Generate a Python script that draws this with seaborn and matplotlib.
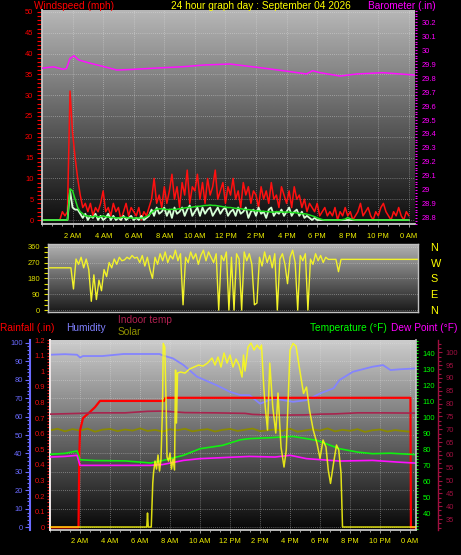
import numpy as np
import seaborn as sns
import matplotlib.pyplot as plt
from matplotlib.ticker import MultipleLocator, FixedLocator, FuncFormatter

# wind readings, one every 10 minutes from midnight
gust_mph = [0, 0, 0, 0, 0, 0, 0, 0, 2, 1, 2, 31,
            21, 15, 10, 6, 3, 4, 2, 4, 1, 3, 2, 4, 7,
            2, 3, 1, 4, 2, 3, 0, 2, 4, 1, 3, 2, 1, 3, 0, 2, 1,
            3, 5, 10, 4, 6, 3,
            8, 4, 7, 11, 5, 8, 3, 9, 6, 12, 4, 8,
            7, 11, 5, 9, 4, 10, 6, 8, 12, 5, 7, 9,
            4, 8, 6, 10, 5, 7, 3, 9, 6, 8, 4, 7,
            6, 3, 8, 5, 7, 4, 9, 5, 6, 3, 8, 6,
            4, 7, 3, 8, 5, 6, 3, 5, 2, 4,
            3, 2, 4, 1, 2, 3, 1, 2,
            1, 3, 0, 2, 1, 3, 1, 2, 0, 1, 2, 4, 1, 2, 3, 1, 0, 2, 1, 3,
            4, 2, 1, 0, 2, 1, 3, 1, 0, 2, 1]
avg_mph = [0, 0, 0, 0, 0, 0, 0, 0, 0, 0, 0,
           7.5, 7, 5, 3, 2, 1.5, 1,
           1, 0.8, 0.8, 1, 0.7, 0.8,
           1, 0.8, 0.7, 0.6, 0.6, 0.5, 0.5, 0.6, 0.7, 0.6, 0.5, 0.5, 0.4, 0.5, 0.5, 0.4, 0.6, 0.8,
           1.2, 1.8, 2.3, 2.6, 2.7, 2.7,
           2.6, 2.5, 2.5, 2.6, 2.5, 2.6, 2.7, 2.8, 2.9, 3.0, 3.0, 3.1,
           3.2, 3.3, 3.3, 3.4, 3.5, 3.5, 3.6, 3.5, 3.5, 3.4, 3.3, 3.2,
           3.1, 3.0, 3.0, 2.9, 2.8, 2.8, 2.7, 2.6, 2.5, 2.5, 2.4, 2.3,
           2.2, 2.2, 2.1, 2.1, 2.0, 2.0, 1.9, 1.9, 2.0, 2.0, 1.9, 1.9,
           1.9, 1.9, 1.8, 1.8, 1.7, 1.6, 1.5, 1.5, 1.4, 1.2,
           1.0, 0.8, 0.5, 0.3, 0.1, 0, 0, 0,
           0, 0, 0, 0, 0.1, 0.2, 0.6, 0.3, 0.1, 0,
           0, 0, 0, 0, 0, 0, 0, 0, 0, 0, 0, 0, 0, 0, 0, 0, 0, 0, 0, 0, 0]
speed_mph = [0, 0, 0, 0, 0, 0, 0, 0, 0, 0, 0,
             7, 3, 2.5, 2.5, 1.5, 0.5, 1.5,
             0, 1, 0.5, 1.5, 0, 1, 0, 0.5, 1.5, 0, 1, 0,
             0.5, 0, 1, 0, 0.5, 1, 0, 0.5, 0, 1, 0, 0.5,
             1, 2.5, 1, 3, 1.5, 2,
             3, 1, 2.5, 0.5, 3, 1.5, 2, 3, 1, 2.5, 3.5, 1,
             2, 3, 1, 3, 1.5, 2.5, 3, 1, 2, 3, 1.5, 2.5,
             3, 1, 2, 2.5, 1, 3, 1.5, 2, 3, 0.5, 2, 2.5,
             1, 3, 1.5, 2, 0.5, 2.5, 3, 1, 2, 1.5, 2.5, 1,
             2, 3, 1, 2, 2.5, 1, 2, 0.5, 1, 0.5,
             0, 0.5, 0, 0, 0, 0, 0, 0,
             0, 0, 0, 0, 0, 0, 0, 0, 0, 0, 0, 0, 0, 0, 0, 0,
             0, 0, 0, 0, 0, 0, 0, 0, 0, 0, 0, 0, 0, 0, 0]
wind_dir = [240, 240, 240, 240, 240, 240, 240, 240, 240, 240, 120,
            290, 260, 300, 240, 290, 230,
            50, 200, 60, 170, 110, 230, 190,
            270, 240, 290, 260, 300, 280, 285, 300, 290, 310, 295, 300, 270, 310, 250, 300, 230, 180,
            300, 260, 320, 280, 330, 270, 310, 290, 340, 280, 320, 30,
            300, 270, 330, 290, 320, 260, 310, 340, 280, 330, 300, 270, 320,
            0, 310, 280, 330, 0, 300, 0, 320, 290, 0,
            330, 280, 320, 260, 30, 40,
            300, 250, 330, 270, 310, 240, 320, 0,
            290, 320, 260, 150, 300, 340, 270, 0,
            310, 280, 320, 0,
            290, 260, 320, 280, 310, 270, 300,
            288, 288, 288, 288, 218,
            288, 288, 288, 288, 288, 288, 288, 288, 288, 288, 288, 288, 288, 288, 288, 288,
            288, 288, 288, 288, 288, 288, 288, 288, 288, 288, 288, 288, 288, 288, 288, 288]

baro_hours = [0, 0.75, 1.4, 1.6, 1.83, 2.1, 2.4, 3.0, 3.8, 4.9, 6.0, 7.1, 8.2, 9.25,
              10.6, 12.3, 14.1, 15.8, 17.3, 17.7, 18.2, 19.5, 20.6, 22.3, 24.4]
baro_in = [29.87, 29.88, 29.862, 29.868, 29.94, 29.959, 29.929, 29.91, 29.888, 29.857,
           29.862, 29.869, 29.875, 29.881, 29.893, 29.9, 29.876, 29.852, 29.829, 29.852,
           29.838, 29.814, 29.829, 29.838, 29.821]

rain_hours = [0, 1.9, 1.95, 2.0, 2.2, 2.67, 3.0, 3.33, 7.6, 7.7, 24.03, 24.06, 24.4]
rain_in = [0, 0, 0.45, 0.62, 0.70, 0.74, 0.77, 0.81, 0.81, 0.83, 0.83, 0, 0]

hum_hours = [0, 1.0, 1.8, 2.0, 2.2, 3.5, 4.9, 6.0, 7.3, 7.5, 8.2, 8.9, 9.8, 11.1, 12.0,
             12.7, 13.3, 14.0, 14.9, 16.2, 17.1, 18.0, 18.9, 19.3, 20.2, 21.5, 22.2, 22.7,
             23.3, 24.4]
humidity = [93.5, 93.8, 93.5, 92.0, 92.8, 92.8, 93.9, 93.9, 93.9, 93.2, 91.5, 87.9, 81.6,
            77.0, 73.4, 71.6, 71.6, 67.0, 69.8, 68.0, 68.9, 72.5, 75.3, 79.8, 84.3, 87.0,
            87.9, 85.2, 85.6, 86.1]

temp_hours = [0, 1.0, 1.8, 2.0, 3.0, 5.0, 6.7, 7.5, 8.9, 10.0, 11.5, 12.7, 13.3, 14.7,
              16.2, 17.8, 19.3, 20.5, 21.5, 22.7, 24.4]
temp_f = [76.9, 77.5, 79.0, 73.5, 73.0, 72.8, 71.5, 73.0, 76.3, 80.4, 82.5, 86.0, 86.7,
          87.3, 88.1, 85.6, 80.4, 78.3, 77.3, 77.6, 76.7]

dew_hours = [0, 1.0, 1.8, 2.0, 4.0, 6.7, 7.5, 8.9, 10.0, 13.3, 15.0, 16.0, 17.1, 19.3,
             21.5, 23.1, 24.4]
dew_f = [75.2, 75.6, 76.3, 70.0, 70.0, 70.0, 70.5, 73.1, 74.2, 75.6, 75.2, 76.3, 74.2,
         72.7, 73.1, 72.1, 71.4]

indoor_hours = [0, 2, 3, 5, 6.5, 7.5, 9, 11, 13, 13.5, 15, 17, 18, 19, 20.5, 22, 24.4]
indoor_f = [75.9, 76.2, 76.4, 76.4, 77.0, 77.1, 76.5, 76.4, 76.2, 75.8, 75.5, 75.6, 75.9,
            76.0, 76.4, 76.4, 76.3]

# olive trace, every 30 minutes (humidity scale)
olive_vals = [52.5, 53.4, 52.0, 53.2, 52.4, 53.5, 51.8, 52.9, 53.3, 52.1,
              53.0, 52.4, 53.6, 52.2, 52.8, 51.9, 53.1, 52.6, 53.4, 52.0,
              52.7, 53.2, 51.9, 52.8, 53.3, 52.2, 52.9, 53.5, 52.1, 52.6,
              53.0, 52.3, 53.4, 51.8, 52.5, 53.1, 52.4, 53.6, 52.0, 52.8,
              52.3, 53.2, 51.7, 52.6, 53.0, 51.9, 52.7, 52.2, 51.8]

solar_hours = [0, 6.45, 6.5, 6.55, 6.75, 6.85, 6.9, 7.0, 7.1, 7.2, 7.3, 7.4, 7.5, 7.55,
               7.65, 7.75, 7.8, 7.9, 8.0, 8.1, 8.2, 8.3, 8.37, 8.43, 8.5, 8.7, 9.0, 9.3,
               9.6, 9.9, 10.2, 10.5, 10.8, 11.0, 11.2, 11.4, 11.6, 11.8, 12.0, 12.2, 12.4,
               12.6, 12.8, 12.9, 13.0, 13.2, 13.4, 13.6, 13.8, 14.0, 14.1, 14.25, 14.35,
               14.5, 14.65, 14.85, 15.05, 15.2, 15.4, 15.6, 15.75, 16.0, 16.2, 16.4, 16.65,
               16.9, 17.1, 17.3, 17.55, 17.8, 18.0, 18.2, 18.4, 18.55, 18.7, 18.9, 19.1,
               19.25, 19.4, 19.5, 24.4]
solar_wm2 = [0, 0, 70, 0, 0, 220, 270, 330, 290, 360, 280, 340, 600, 918, 900, 585, 350,
             330, 370, 290, 340, 285, 785, 520, 770, 775, 770, 790, 800, 810, 805, 820, 845,
             810, 850, 800, 870, 820, 860, 800, 840, 810, 750, 860, 780, 900, 920, 885, 910,
             890, 910, 700, 600, 485, 820, 600, 470, 670, 400, 300, 385, 885, 918, 905, 785,
             668, 700, 585, 485, 418, 343, 435, 400, 285, 218, 318, 410, 385, 270, 0, 0]

hour_ticks = [2, 4, 6, 8, 10, 12, 14, 16, 18, 20, 22, 24]
hour_labels = ['2 AM', '4 AM', '6 AM', '8 AM', '10 AM', '12 PM', '2 PM', '4 PM',
               '6 PM', '8 PM', '10 PM', '0 AM']
compass = ['N', 'E', 'S', 'W', 'N']

wind_hours = np.arange(len(gust_mph)) / 6
dir_hours = np.arange(len(wind_dir)) / 6
olive_hours = np.arange(len(olive_vals)) / 2

sns.set_theme(style='ticks')
plt.rcParams['font.family'] = ['Liberation Sans', 'DejaVu Sans']

YEL = '#f0f000'
TXT = 7.3
TICK = 5.4


def shade(ax, top, bottom):
    grad = np.linspace(top, bottom, 256).reshape(-1, 1)
    ax.imshow(grad, extent=[0, 1, 0, 1], transform=ax.transAxes, aspect='auto',
              cmap='gray', vmin=0, vmax=1, zorder=0)
    ax.set_facecolor('black')


def grid(ax, axis='both'):
    ax.grid(True, axis=axis, color='#e6e6e6', lw=0.6, ls=(0, (1, 1.5)), alpha=0.5)


def line(ax, x, y, color, lw, alpha=1.0):
    sns.lineplot(x=x, y=y, ax=ax, color=color, lw=lw, alpha=alpha,
                 estimator=None, sort=False, legend=False)
    ax.set_xlabel('')
    ax.set_ylabel('')


def trim(v, pos):
    s = f'{v:.1f}'
    return s[:-2] if s.endswith('.0') else s


def hide_spines(ax, keep=()):
    for name, sp in ax.spines.items():
        sp.set_visible(name in keep)


def hour_axis(ax, pad):
    ax.set_xlim(0, 24.4)
    ax.xaxis.set_major_locator(FixedLocator(hour_ticks))
    ax.xaxis.set_minor_locator(MultipleLocator(2 / 3))
    ax.set_xticklabels(hour_labels)
    ax.tick_params(axis='x', which='both', colors='#9a9a9a', labelcolor=YEL,
                   labelsize=TICK, length=2, width=0.7, pad=pad)
    ax.tick_params(axis='x', which='minor', length=1.5)


fig = plt.figure(figsize=(4.61, 5.55), dpi=100, facecolor='black')

# wind speed and barometer
ax_w = fig.add_axes([0.0911, 0.5964, 0.8091, 0.3856])
shade(ax_w, 0.72, 0.05)
grid(ax_w)
line(ax_w, wind_hours, gust_mph, '#ff1010', 1.1)
line(ax_w, wind_hours, speed_mph, '#d6ffd6', 1.3)
line(ax_w, wind_hours, avg_mph, '#20e020', 1.1)
ax_w.set_ylim(-0.96, 50.48)
ax_w.yaxis.set_major_locator(MultipleLocator(5))
ax_w.yaxis.set_minor_locator(MultipleLocator(1))
ax_w.tick_params(axis='y', which='both', colors='#ff0000', labelsize=TICK,
                 length=3.6, width=0.8, pad=2.6)
hour_axis(ax_w, 4.6)
hide_spines(ax_w, ('left', 'bottom'))
for side in ('left', 'bottom'):
    ax_w.spines[side].set_color('#c8c8c8')
    ax_w.spines[side].set_linewidth(1.3)

ax_b = ax_w.twinx()
line(ax_b, baro_hours, baro_in, '#ff10ff', 1.1)
ax_b.set_xlim(0, 24.4)
ax_b.set_ylim(28.757, 30.286)
ax_b.yaxis.set_major_locator(MultipleLocator(0.1))
ax_b.yaxis.set_minor_locator(MultipleLocator(0.02))
ax_b.yaxis.set_major_formatter(FuncFormatter(trim))
ax_b.tick_params(axis='y', which='both', colors='#ff00ff', labelsize=TICK,
                 length=1.5, width=0.8, pad=3.4)
hide_spines(ax_b)

# wind direction
ax_d = fig.add_axes([0.1041, 0.4378, 0.8026, 0.1225])
shade(ax_d, 0.70, 0.10)
grid(ax_d, 'y')
line(ax_d, dir_hours, wind_dir, '#f2f22a', 1.0)
ax_d.set_xlim(0, 24.2)
ax_d.set_ylim(-11, 375)
ax_d.yaxis.set_major_locator(FixedLocator([0, 90, 180, 270, 360]))
ax_d.yaxis.set_minor_locator(MultipleLocator(30))
ax_d.tick_params(axis='y', which='both', colors='#e0e000', labelsize=TICK,
                 length=3, width=0.8, pad=2.5)
ax_d.tick_params(axis='x', which='both', bottom=False, labelbottom=False)
for sp in ax_d.spines.values():
    sp.set_color('#c0c0c0')
    sp.set_linewidth(1.0)

ax_c = ax_d.twinx()
ax_c.set_ylim(-11, 375)
ax_c.yaxis.set_major_locator(FixedLocator([0, 90, 180, 270, 360]))
ax_c.set_yticklabels(compass)
ax_c.tick_params(axis='y', colors='#ffff00', labelsize=7.8, length=0, pad=9)
hide_spines(ax_c)

# rain, humidity, temperatures, solar
ax_h = fig.add_axes([0.1085, 0.0450, 0.7939, 0.3423])
shade(ax_h, 0.80, 0.03)
grid(ax_h)
line(ax_h, hum_hours, humidity, '#8484ff', 1.3)
line(ax_h, olive_hours, olive_vals, '#8a8a00', 1.3)
ax_h.set_ylim(-1.46, 101.46)
ax_h.yaxis.set_major_locator(MultipleLocator(10))
ax_h.yaxis.set_minor_locator(MultipleLocator(2))
ax_h.tick_params(axis='y', which='both', colors='#6a6aff', labelsize=TICK,
                 length=3.4, width=0.8, pad=2)
ax_h.tick_params(axis='y', which='minor', length=2)
hour_axis(ax_h, 4)
hide_spines(ax_h, ('left', 'bottom'))
ax_h.spines['left'].set_position(('outward', 14.4))
ax_h.spines['left'].set_color('#6a6aff')
ax_h.spines['left'].set_linewidth(1.5)
ax_h.spines['bottom'].set_color('#c8c8c8')
ax_h.spines['bottom'].set_linewidth(1.3)

ax_r = ax_h.twinx()
line(ax_r, rain_hours, rain_in, '#ff0000', 1.6)
ax_r.set_ylim(-0.017, 1.2)
ax_r.yaxis.tick_left()
ax_r.yaxis.set_major_locator(MultipleLocator(0.1))
ax_r.yaxis.set_minor_locator(MultipleLocator(0.02))
ax_r.yaxis.set_major_formatter(FuncFormatter(trim))
ax_r.tick_params(axis='y', which='both', colors='#ee1010', labelsize=TICK,
                 length=2.2, width=0.8, pad=1.5)
hide_spines(ax_r, ('left',))
ax_r.spines['left'].set_color('#f0e8e8')
ax_r.spines['left'].set_linewidth(1.4)

ax_i = ax_h.twinx()
line(ax_i, indoor_hours, indoor_f, '#a8244e', 1.2)
ax_i.set_ylim(30.7, 104.8)
ax_i.yaxis.set_major_locator(FixedLocator(list(range(35, 101, 5))))
ax_i.yaxis.set_minor_locator(MultipleLocator(5 / 3))
ax_i.tick_params(axis='y', which='both', colors='#a01040', labelsize=TICK,
                 length=3, width=0.8, pad=2.5)
ax_i.tick_params(axis='y', which='minor', length=1.8)
hide_spines(ax_i, ('right',))
ax_i.spines['right'].set_position(('outward', 15.8))
ax_i.spines['right'].set_color('#a01040')
ax_i.spines['right'].set_linewidth(1.0)

ax_t = ax_h.twinx()
line(ax_t, temp_hours, temp_f, '#10f010', 1.2)
line(ax_t, dew_hours, dew_f, '#ff10ff', 1.2)
ax_t.set_ylim(29.6, 148.3)
ax_t.yaxis.set_major_locator(FixedLocator(list(range(40, 141, 10))))
ax_t.yaxis.set_minor_locator(MultipleLocator(2))
ax_t.tick_params(axis='y', which='both', colors='#00ff00', labelsize=TICK,
                 length=1.6, width=0.8, pad=3.3)
hide_spines(ax_t, ('right',))
ax_t.spines['right'].set_color('#c8c8c8')
ax_t.spines['right'].set_linewidth(1.2)

ax_s = ax_h.twinx()
line(ax_s, solar_hours, solar_wm2, '#ffff10', 1.1, alpha=0.85)
ax_s.set_ylim(-15, 935)
ax_s.tick_params(axis='y', right=False, labelright=False)
hide_spines(ax_s)

for a in (ax_r, ax_i, ax_t, ax_s):
    a.set_xlim(0, 24.4)

# captions
fig.text(34 / 461, 0.989, 'Windspeed (mph)', color='#ff0000', fontsize=TXT, va='center')
fig.text(170.7 / 461, 0.989, '24 hour graph day : September 04 2026', color='#ffff00',
         fontsize=TXT, va='center')
fig.text(367.7 / 461, 0.989, 'Barometer (.in)', color='#ff00ff', fontsize=TXT, va='center')
fig.text(0.0, 0.409, 'Rainfall (.in)', color='#ff0000', fontsize=TXT, va='center')
fig.text(65.7 / 461, 0.409, 'Humidity', color='#8080ff', fontsize=TXT, va='center')
fig.text(118 / 461, 0.4234, 'Indoor temp', color='#b02050', fontsize=TXT, va='center')
fig.text(118 / 461, 0.4018, 'Solar', color='#909000', fontsize=TXT, va='center')
fig.text(310 / 461, 0.409, 'Temperature (°F)', color='#00ff00', fontsize=TXT, va='center')
fig.text(390.7 / 461, 0.409, 'Dew Point (°F)', color='#ff00ff', fontsize=TXT, va='center')

fig.savefig('out.png', dpi=100, facecolor='black')
